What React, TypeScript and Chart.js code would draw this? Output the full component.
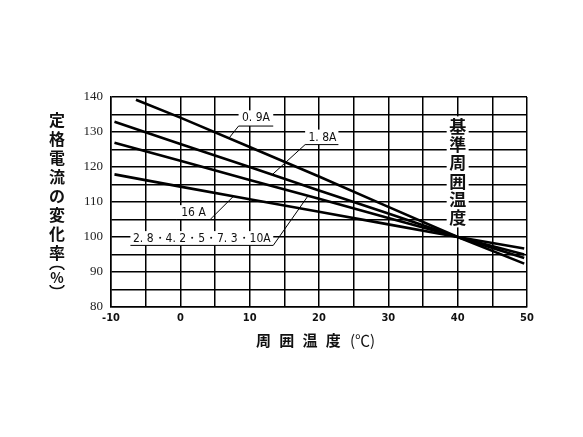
import { useEffect, useRef } from "react";
import { Chart, registerables, type ChartConfiguration, type Plugin } from "chart.js";

Chart.register(...registerables);

// ambient temperature (°C) vs. change of rated current (%)
const temps09 = [-6.4, 0, 10, 20, 30, 40, 49.6];
const rate09 = [139.2, 134.1, 125.7, 117.3, 108.6, 100, 92.4];
const temps18 = [-9.5, 0, 10, 20, 30, 40, 49.6];
const rate18 = [132.9, 126.6, 120.0, 113.3, 106.7, 100, 94.0];
const temps28 = [-9.5, 0, 10, 20, 30, 40, 49.6];
const rate28 = [126.9, 121.8, 116.3, 110.9, 105.4, 100, 95.0];
const temps16 = [-9.5, 0, 10, 20, 30, 40, 49.6];
const rate16 = [117.9, 114.4, 110.8, 107.2, 103.6, 100, 96.7];

const xTickLabels = [-10, 0, 10, 20, 30, 40, 50];
const yTickLabels = [80, 90, 100, 110, 120, 130, 140];

// series labels with underline and leader (data units)
const labelTexts = ["0. 9A", "1. 8A", "16 A", "2. 8・4. 2・5・7. 3・10A"];
const labelX = [10.9, 20.5, 1.9, 3.1];
const labelY = [133.9, 128.4, 106.8, 99.4];
const underlineFrom = [8.4, 18.0, -0.5, -7.2];
const underlineTo = [13.4, 22.8, 4.3, 13.4];
const underlineY = [131.7, 126.4, 105, 97.6];
const leaderStartX = [8.4, 18.0, 4.3, 13.4];
const leaderEndX = [7.0, 13.3, 7.65, 18.4];
const leaderEndY = [128.2, 117.9, 111.6, 111.7];

const refChars = ["基", "準", "周", "囲", "温", "度"];
const refX = 40;
const refY = [131.6, 126.5, 121.3, 115.9, 110.8, 105.6];

const yTitleChars = ["定", "格", "電", "流", "の", "変", "化", "率"];
const xTitleChars = ["周", "囲", "温", "度"];

const NARROW = '"Liberation Sans Narrow", "DejaVu Sans Condensed", "Liberation Sans", sans-serif';
const CJK = '"Noto Sans CJK JP", "Noto Sans", sans-serif';

const overlay: Plugin<"line"> = {
  id: "overlay",
  beforeDatasetsDraw(chart) {
    const { ctx } = chart;
    const x = chart.scales.x;
    const y = chart.scales.y;
    ctx.save();
    labelTexts.forEach((text, i) => {
      const x1 = x.getPixelForValue(underlineFrom[i]);
      const x2 = x.getPixelForValue(underlineTo[i]);
      const uy = y.getPixelForValue(underlineY[i]);
      const ty = y.getPixelForValue(labelY[i]);
      ctx.fillStyle = "#fff";
      ctx.fillRect(x1, ty - 8, x2 - x1, uy - ty + 8);
      ctx.strokeStyle = "#000";
      ctx.lineWidth = 1;
      ctx.beginPath();
      ctx.moveTo(x1, uy);
      ctx.lineTo(x2, uy);
      ctx.moveTo(x.getPixelForValue(leaderStartX[i]), uy);
      ctx.lineTo(x.getPixelForValue(leaderEndX[i]), y.getPixelForValue(leaderEndY[i]));
      ctx.stroke();
      ctx.fillStyle = "#111";
      ctx.font = `12px ${NARROW}`;
      ctx.textAlign = "center";
      ctx.textBaseline = "middle";
      ctx.fillText(text, x.getPixelForValue(labelX[i]), ty);
    });

    const rx = x.getPixelForValue(refX);
    const top = y.getPixelForValue(refY[0]) - 10;
    const bottom = y.getPixelForValue(refY[refY.length - 1]) + 10;
    ctx.fillStyle = "#fff";
    ctx.fillRect(rx - 11, top, 22, bottom - top);
    ctx.fillStyle = "#111";
    ctx.font = `bold 17px ${CJK}`;
    ctx.textAlign = "center";
    ctx.textBaseline = "middle";
    refChars.forEach((c, i) => ctx.fillText(c, rx, y.getPixelForValue(refY[i])));
    ctx.restore();
  },
  afterDraw(chart) {
    const { ctx, chartArea } = chart;
    ctx.save();
    ctx.fillStyle = "#111";
    ctx.strokeStyle = "#111";
    ctx.textAlign = "center";
    ctx.textBaseline = "middle";
    ctx.font = `bold 16px ${CJK}`;
    const tx = chartArea.left - 54;
    yTitleChars.forEach((c, i) => ctx.fillText(c, tx, chartArea.top + 23 + i * 19));
    const py = chartArea.top + 23 + yTitleChars.length * 19;
    // vertical parentheses around %
    ctx.lineWidth = 1.6;
    ctx.beginPath();
    ctx.ellipse(tx, py - 2, 7, 3.5, 0, Math.PI, 2 * Math.PI);
    ctx.stroke();
    ctx.beginPath();
    ctx.ellipse(tx, py + 13, 7, 3.5, 0, 0, Math.PI);
    ctx.stroke();
    ctx.font = `bold 14px ${CJK}`;
    ctx.fillText("%", tx, py + 6);

    const cx = (chartArea.left + chartArea.right) / 2;
    const cy = chartArea.bottom + 33;
    ctx.font = `bold 15px ${CJK}`;
    xTitleChars.forEach((c, i) => ctx.fillText(c, cx - 55.6 + i * 23.3, cy));
    ctx.font = `15px ${CJK}`;
    ctx.textAlign = "left";
    ctx.fillText("(℃)", cx + 31, cy);
    ctx.restore();
  },
};

function series(temps: number[], rates: number[]) {
  return {
    data: temps.map((t, i) => ({ x: t, y: rates[i] })),
    borderColor: "#000",
    borderWidth: 2.6,
    pointRadius: 0,
    tension: 0,
    fill: false,
  };
}

export default function App() {
  const canvasRef = useRef<HTMLCanvasElement | null>(null);

  useEffect(() => {
    const canvas = canvasRef.current;
    if (!canvas) return;

    const configuration: ChartConfiguration<"line"> = {
      type: "line",
      data: {
        datasets: [
          series(temps09, rate09),
          series(temps18, rate18),
          series(temps28, rate28),
          series(temps16, rate16),
        ],
      },
      options: {
        animation: false,
        responsive: true,
        maintainAspectRatio: false,
        layout: { padding: { top: 97, right: 56, bottom: 100, left: 0 } },
        plugins: { legend: { display: false }, tooltip: { enabled: false } },
        scales: {
          x: {
            type: "linear",
            min: -10,
            max: 50,
            afterFit(scale) {
              scale.height = 30;
            },
            border: { color: "#000", width: 1.5 },
            grid: { color: "#000", lineWidth: 1.5, drawTicks: false },
            ticks: {
              stepSize: 5,
              autoSkip: false,
              maxRotation: 0,
              padding: 5,
              color: "#111",
              font: { family: NARROW, size: 11, weight: "bold" },
              callback: (v) => (xTickLabels.includes(Number(v)) ? String(v) : ""),
            },
          },
          y: {
            type: "linear",
            min: 80,
            max: 140,
            afterFit(scale) {
              scale.width = 111;
            },
            border: { color: "#000", width: 1.5 },
            grid: { color: "#000", lineWidth: 1.5, drawTicks: false },
            ticks: {
              stepSize: 5,
              autoSkip: false,
              padding: 8,
              color: "#222",
              font: { family: '"Liberation Serif", "DejaVu Serif", serif', size: 13 },
              callback: (v) => (yTickLabels.includes(Number(v)) ? String(v) : ""),
            },
          },
        },
      },
      plugins: [overlay],
    };

    const chart = new Chart(canvas, configuration);
    return () => {
      chart.destroy();
    };
  }, []);

  return (
    <div style={{ position: "absolute", left: 0, top: 0, width: 583, height: 437, background: "#fff" }}>
      <canvas ref={canvasRef} />
    </div>
  );
}
